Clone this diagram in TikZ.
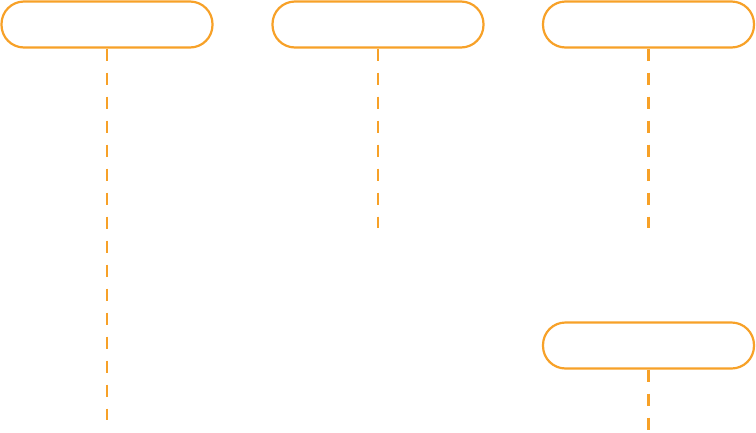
\documentclass[tikz,border=0pt]{standalone}
\definecolor{boxorange}{RGB}{247,161,40}
\begin{document}
\begin{tikzpicture}[x=1pt,y=-1pt,
  pill/.style={draw=boxorange,line width=2.2pt,rounded corners=22.5pt,minimum width=211pt,minimum height=46pt,inner sep=0pt,fill=white},
  dashline/.style={draw=boxorange,line width=2.2pt,dash pattern=on 12pt off 12pt}]
\useasboundingbox (0,0) rectangle (756,432);
\node[pill] (b1) at (107,24.5) {};
\node[pill] (b2) at (378,24.5) {};
\node[pill] (b3) at (648.5,24.5) {};
\node[pill] (b4) at (648.5,345.5) {};
\coordinate (e1) at (107,420);
\coordinate (e2) at (378,228);
\coordinate (e3) at (648.5,228);
\coordinate (e4) at (648.5,430);
\draw[dashline] (b1.south) -- (e1);
\draw[dashline] (b2.south) -- (e2);
\draw[dashline] (b3.south) -- (e3);
\draw[dashline] (b4.south) -- (e4);
\end{tikzpicture}
\end{document}
